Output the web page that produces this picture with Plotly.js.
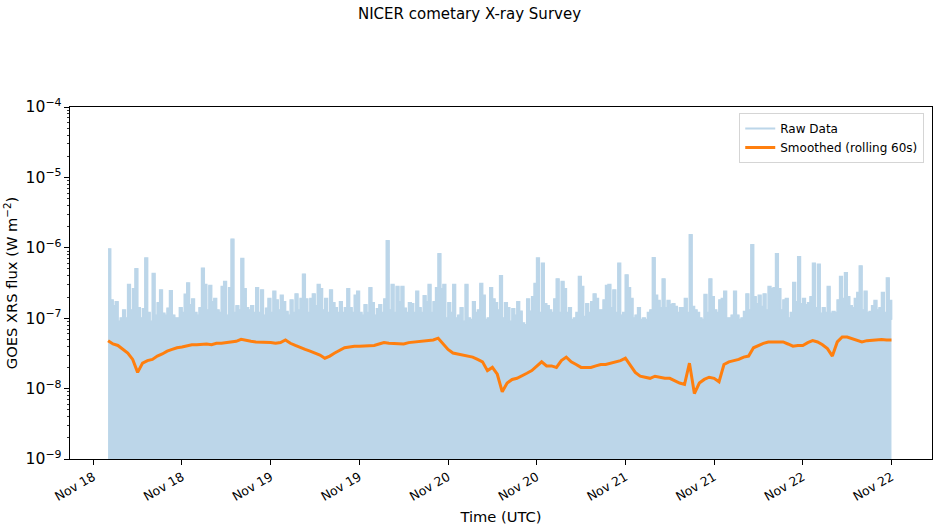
<!DOCTYPE html>
<html>
<head>
<meta charset="utf-8">
<script src="https://cdn.plot.ly/plotly-3.0.1.min.js"></script>
<style>
  html, body { margin: 0; padding: 0; background: #fff; }
  #chart { width: 939px; height: 529px; }
</style>
</head>
<body>
<div id="chart"></div>
<script>
// GOES XRS flux, in units of 1e-8 W m^-2.
// Raw samples every 20 minutes starting Nov 18 02:00 UTC.
const rawStart = '2024-11-18T02:00:00';
const rawStepMinutes = 20;
const rawFlux = [
  96, 18, 15, 17, 9, 10, 13, 10, 30, 13,
  26, 50, 14, 10, 13.5, 71, 12, 9, 43, 11,
  16.5, 25, 11.7, 11, 13.8, 24.5, 11, 10, 10, 14,
  12, 21.7, 31.5, 15.4, 18.6, 12, 11, 14, 51, 30,
  13, 29, 17, 19, 13, 12, 28, 33, 11, 27,
  132, 12, 15, 13, 70, 26, 14, 13, 15, 12,
  27, 12, 25, 11, 13.8, 19, 12, 24, 18, 13,
  21, 17, 12.4, 11, 18, 12, 22, 13, 19, 42,
  18.6, 12, 19, 22, 15, 30, 26, 13, 19, 12,
  25, 16.5, 14, 12, 17, 12, 14, 26, 14, 12,
  21, 24, 12, 11, 15.4, 12, 27, 16.5, 11, 13.5,
  15.4, 12, 18.6, 125, 13, 30, 12, 28, 17, 28,
  13.8, 12, 16.5, 16, 12, 24, 14, 12, 20.7, 17,
  30, 12, 17, 27, 82, 26, 30, 10, 16.5, 12,
  30, 10, 11, 14, 9, 30, 10, 9.5, 17, 12,
  13, 31, 21, 9.5, 10, 27, 18.6, 16.5, 13, 40,
  10, 16.5, 14, 9, 13.5, 11, 17, 12.5, 8.5, 8,
  18.6, 12.5, 20, 31, 71, 12, 60, 16, 15, 13,
  12, 18.6, 36, 12, 33, 26, 12, 14, 9.5, 10,
  12, 39, 28, 10.5, 16, 12, 17, 22, 19, 13,
  13, 18, 29, 30, 14, 25, 12, 60, 11, 12,
  41, 27, 19, 10, 11, 14, 9.5, 10, 9.5, 12,
  13, 72, 21, 17.7, 14, 36, 14, 17.7, 15.4, 16,
  14.6, 12, 14, 14, 19, 12, 152, 14.6, 13, 12,
  10, 9.5, 21.6, 12, 36, 20, 13, 12, 18, 19,
  24, 10, 10, 11, 24, 11, 9.5, 10, 12.4, 22,
  13, 110, 20, 16, 21, 14.6, 22, 13, 28, 26,
  27, 82, 26, 13, 18, 19, 10, 12, 32, 17,
  74, 16, 19, 15.4, 16.5, 20, 60, 14, 58, 11.7,
  14, 12, 28, 11.7, 12.4, 12, 18, 39, 19, 44,
  20, 15, 14, 19, 23, 55, 13, 24, 12, 12.4,
  15, 17.7, 13, 14, 23, 12, 37, 17.7, 9.5
];

// Rolling 60 s mean, sampled every 40 minutes from the same start.
const smoothStepMinutes = 40;
const smoothFlux = [
  4.8, 4.3, 4.1, 3.6, 3.2, 2.6, 1.7, 2.3, 2.5, 2.6,
  2.9, 3.1, 3.4, 3.6, 3.8, 3.9, 4.0, 4.2, 4.2, 4.3,
  4.3, 4.2, 4.4, 4.4, 4.5, 4.5, 4.7, 5.0, 4.8, 4.7,
  4.6, 4.6, 4.5, 4.5, 4.4, 4.5, 4.9, 4.4, 4.1, 3.8,
  3.6, 3.4, 3.2, 3.0, 2.7, 2.9, 3.2, 3.5, 3.8, 3.9,
  4.0, 4.0, 4.0, 4.1, 4.1, 4.3, 4.5, 4.4, 4.4, 4.3,
  4.3, 4.5, 4.6, 4.7, 4.8, 4.9, 4.9, 5.2, 4.4, 3.6,
  3.2, 3.1, 3.0, 2.9, 2.8, 2.6, 2.4, 1.8, 2.0, 1.6,
  0.9, 1.2, 1.35, 1.4, 1.5, 1.65, 1.8, 2.1, 2.4, 2.1,
  2.1, 2.0, 2.5, 2.8, 2.4, 2.2, 2.0, 2.0, 2.0, 2.1,
  2.2, 2.2, 2.3, 2.4, 2.5, 2.7, 2.1, 1.7, 1.5, 1.45,
  1.4, 1.5, 1.45, 1.4, 1.4, 1.3, 1.2, 1.15, 2.3, 0.85,
  1.2, 1.35, 1.45, 1.4, 1.25, 2.2, 2.4, 2.5, 2.6, 2.8,
  2.9, 3.8, 4.1, 4.4, 4.6, 4.6, 4.7, 4.6, 4.3, 4.0,
  4.1, 4.1, 4.5, 4.8, 4.6, 4.2, 3.7, 2.9, 4.6, 5.4,
  5.4, 5.1, 4.8, 4.6, 4.8, 4.9, 4.9, 5.0, 4.9, 4.9
];

const fluxUnit = 1e-8;

function timeAxis(start, stepMinutes, count) {
  const t0 = Date.parse(start + 'Z');
  const out = [];
  for (let i = 0; i < count; i++) {
    out.push(new Date(t0 + i * stepMinutes * 60000).toISOString().slice(0, 19).replace('T', ' '));
  }
  return out;
}

const rawTimes = timeAxis(rawStart, rawStepMinutes, rawFlux.length);
const smoothTimes = timeAxis(rawStart, smoothStepMinutes, smoothFlux.length);
const rawY = rawFlux.map(v => v * fluxUnit);
const smoothY = smoothFlux.map(v => v * fluxUnit);

const rawColor = 'rgb(188,214,233)';
const smoothColor = '#ff7f0e';
const font = 'DejaVu Sans, sans-serif';

const traces = [
  {
    x: rawTimes, y: rawY, type: 'scatter', mode: 'lines',
    line: { color: rawColor, width: 1, shape: 'hv' },
    fill: 'tozeroy', fillcolor: rawColor,
    showlegend: false, hoverinfo: 'skip'
  },
  {
    x: rawTimes, y: rawY, type: 'scatter', mode: 'lines',
    name: 'Raw Data',
    line: { color: rawColor, width: 1.8, shape: 'hv' }
  },
  {
    x: smoothTimes, y: smoothY, type: 'scatter', mode: 'lines',
    name: 'Smoothed (rolling 60s)',
    line: { color: smoothColor, width: 3 }
  }
];

const layout = {
  width: 939, height: 529,
  margin: { l: 70, r: 7, t: 107, b: 70, pad: 0 },
  paper_bgcolor: '#fff', plot_bgcolor: '#fff',
  font: { family: font, size: 12, color: '#000' },
  title: {
    text: 'NICER cometary X-ray Survey',
    font: { family: font, size: 15, color: '#000' },
    x: 0.5, xref: 'container', xanchor: 'center',
    y: 1 - 14 / 529, yref: 'container', yanchor: 'middle'
  },
  showlegend: true,
  legend: {
    x: 0.991, xanchor: 'right', y: 0.983, yanchor: 'top',
    bgcolor: 'rgba(255,255,255,0.8)', bordercolor: '#d5d5d5', borderwidth: 1,
    font: { family: font, size: 12, color: '#000' },
    tracegroupgap: 0
  },
  xaxis: {
    type: 'date',
    range: ['2024-11-17 20:51', '2024-11-22 17:29'],
    tick0: '2024-11-18 00:00', dtick: 12 * 3600 * 1000,
    tickformat: '%b %d', tickangle: -30,
    ticks: 'outside', ticklen: 5, tickwidth: 1, tickcolor: '#000',
    tickfont: { family: font, size: 12.5, color: '#000' },
    showline: true, linecolor: '#000', linewidth: 1, mirror: true,
    showgrid: false, zeroline: false, automargin: false,
    title: { text: 'Time (UTC)', font: { family: font, size: 14.7, color: '#000' }, standoff: 8 }
  },
  yaxis: {
    type: 'log', range: [-9, -4], dtick: 1,
    exponentformat: 'power', showexponent: 'all',
    ticks: 'outside', ticklen: 5, tickwidth: 1, tickcolor: '#000',
    tickfont: { family: font, size: 12.5, color: '#000' },
    minor: { ticks: 'outside', dtick: 'D1', ticklen: 2.5, tickwidth: 0.8, tickcolor: '#000', showgrid: false },
    showline: true, linecolor: '#000', linewidth: 1, mirror: true,
    showgrid: false, zeroline: false, automargin: false,
    title: { text: 'GOES XRS flux (W m<sup>−2</sup>)', font: { family: font, size: 14.7, color: '#000' }, standoff: 4 }
  }
};

Plotly.newPlot('chart', traces, layout, { displayModeBar: false, staticPlot: true });
</script>
</body>
</html>
